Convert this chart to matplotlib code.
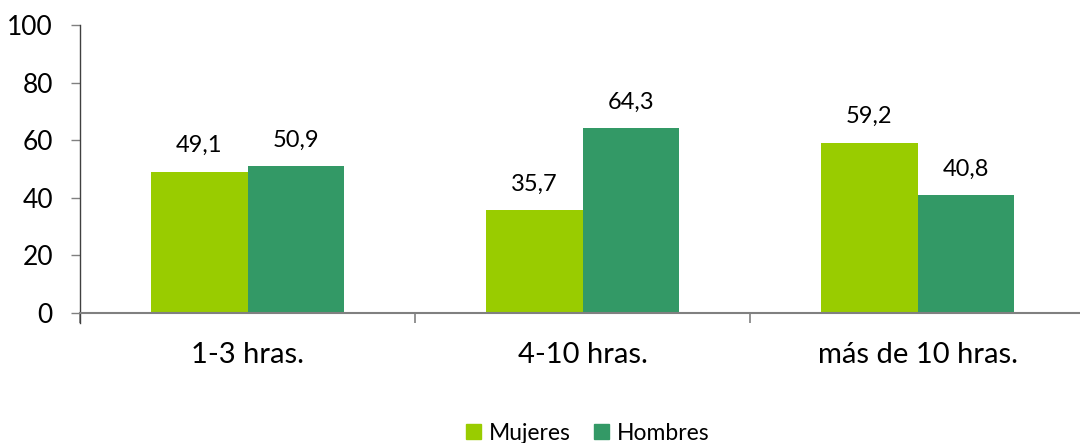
import numpy as np
import matplotlib.pyplot as plt
from matplotlib.patches import Patch

plt.rcParams['font.family'] = ['Lato', 'DejaVu Sans']

# data
categorias = ['1-3 hras.', '4-10 hras.', 'más de 10 hras.']
mujeres = [49.1, 35.7, 59.2]
hombres = [50.9, 64.3, 40.8]
series = ['Mujeres', 'Hombres']
yticks = [0, 20, 40, 60, 80, 100]

c_muj = '#99CC00'
c_hom = '#339966'

fig = plt.figure(figsize=(10.8, 4.43), dpi=100)
ax = fig.add_axes([80 / 1080, 1 - 313 / 443, 1005 / 1080, 288 / 443])

x = np.arange(len(categorias))
w = 0.287
b1 = ax.bar(x - w / 2, mujeres, w, color=c_muj)
b2 = ax.bar(x + w / 2, hombres, w, color=c_hom)

# value labels
for bars, vals in [(b1, mujeres), (b2, hombres)]:
    for rect, v in zip(bars, vals):
        ax.annotate(('%.1f' % v).replace('.', ','),
                    (rect.get_x() + rect.get_width() / 2, v),
                    xytext=(0, 11), textcoords='offset points',
                    ha='center', va='bottom', fontsize=17, color='#000000')

ax.set_xlim(-0.5, 2.5)
ax.set_ylim(0, 100)
ax.set_yticks(yticks)
ax.set_yticklabels([str(t) for t in yticks], fontsize=19)
ax.tick_params(axis='y', length=6.5, width=1, color='#808080', pad=13)

ax.set_xticks(x)
ax.set_xticklabels(categorias, fontsize=21)
ax.set_xticks([-0.5, 0.5, 1.5, 2.5], minor=True)
ax.tick_params(axis='x', which='major', length=0, pad=21)
ax.tick_params(axis='x', which='minor', length=7, width=1.2, color='#808080')

for s in ['top', 'right']:
    ax.spines[s].set_visible(False)
ax.spines['left'].set_color('#404040')
ax.spines['left'].set_linewidth(1)
ax.spines['bottom'].set_color('#808080')
ax.spines['bottom'].set_linewidth(1.5)
ax.spines['left'].set_bounds(-3.5, 100)

handles = [Patch(color=c_muj), Patch(color=c_hom)]
fig.legend(handles, series, loc='center', bbox_to_anchor=(588 / 1080, 1 - 433 / 443),
           ncol=2, frameon=False, fontsize=16.5, handlelength=0.65, handleheight=0.65,
           handletextpad=0.35, columnspacing=1.0)

plt.savefig('out.png', dpi=100)
